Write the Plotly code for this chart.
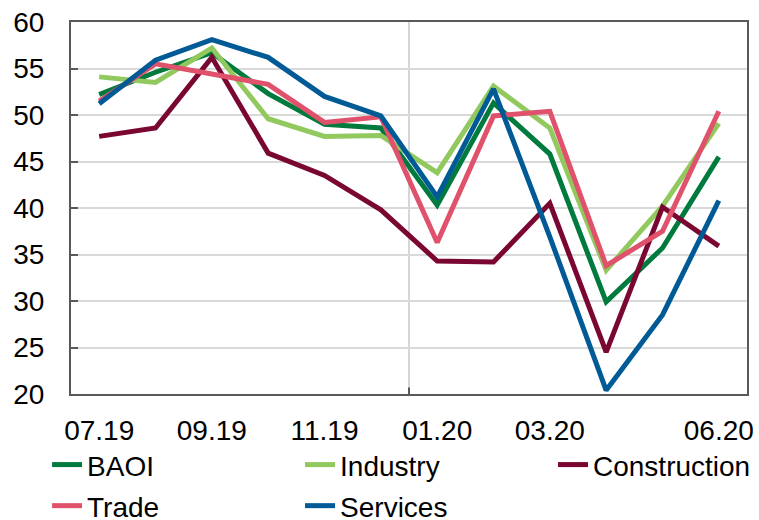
import plotly.graph_objects as go

# Monthly business activity indices, 07.2019 - 06.2020
months = ["07.19", "08.19", "09.19", "10.19", "11.19", "12.19",
          "01.20", "02.20", "03.20", "04.20", "05.20", "06.20"]
tick_months = ["07.19", "09.19", "11.19", "01.20", "03.20", "06.20"]

baoi = [52.2, 54.6, 56.7, 52.3, 49.0, 48.6, 40.3, 51.3, 45.8, 29.9, 35.7, 45.5]
industry = [54.1, 53.5, 57.2, 49.6, 47.7, 47.8, 43.8, 53.1, 48.6, 33.3, 40.2, 49.1]
construction = [47.7, 48.6, 56.2, 45.9, 43.5, 39.8, 34.3, 34.2, 40.5, 24.5, 40.1, 35.9]
trade = [51.5, 55.5, 54.4, 53.3, 49.2, 49.8, 36.3, 49.9, 50.4, 33.8, 37.5, 50.4]
services = [51.2, 55.9, 58.1, 56.2, 52.0, 49.9, 41.2, 52.8, 36.9, 20.4, 28.5, 40.8]

# (name, values, colour, legend box)
series = [
    ("BAOI", baoi, "#007A3D", "legend"),
    ("Industry", industry, "#92C95E", "legend"),
    ("Construction", construction, "#7A0632", "legend3"),
    ("Trade", trade, "#E0526B", "legend2"),
    ("Services", services, "#005A95", "legend2"),
]

FONT = "Liberation Sans, Arial, sans-serif"
FONT_SIZE = 28
AXIS_COLOR = "#595959"

fig = go.Figure()
for idx, (name, vals, color, leg) in enumerate(series):
    fig.add_trace(go.Scatter(
        x=months, y=vals, name=name, mode="lines",
        line=dict(color=color, width=5),
        legend=leg, legendrank=idx + 1,
    ))

# year separator between 12.19 and 01.20
sep = months.index("01.20") - 0.5
fig.add_shape(type="line", xref="x", yref="paper", x0=sep, x1=sep, y0=0, y1=1,
              line=dict(color="#C8C8C8", width=1.5), layer="below")
fig.add_shape(type="line", xref="x", yref="y", x0=sep, x1=sep, y0=20, y1=20.7,
              line=dict(color=AXIS_COLOR, width=2))

legend_common = dict(
    orientation="h", xanchor="left", yanchor="middle",
    xref="container", yref="container",
    font=dict(family=FONT, size=FONT_SIZE, color="#000000"),
    bgcolor="rgba(0,0,0,0)", entrywidth=208, entrywidthmode="pixels",
    itemwidth=30, traceorder="normal",
)

fig.update_layout(
    template="none",
    width=759, height=520,
    margin=dict(l=71, r=12, t=22, b=126, autoexpand=False),
    paper_bgcolor="white", plot_bgcolor="white",
    font=dict(family=FONT, size=FONT_SIZE, color="#000000"),
    showlegend=True,
    legend=dict(x=0.062, y=0.106, **legend_common),
    legend3=dict(x=0.7286, y=0.106, **legend_common),
    legend2=dict(x=0.062, y=0.027, **legend_common),
    xaxis=dict(
        type="category", categoryorder="array", categoryarray=months,
        tickvals=tick_months, ticktext=tick_months, automargin=False,
        showgrid=False, ticks="", showline=True, linecolor=AXIS_COLOR,
        linewidth=2, mirror=True, ticklabelstandoff=10,
        tickfont=dict(family=FONT, size=FONT_SIZE, color="#000000"),
        range=[-0.5, len(months) - 0.5],
    ),
    yaxis=dict(
        range=[20, 60], tickvals=[20, 25, 30, 35, 40, 45, 50, 55, 60],
        showgrid=True, gridcolor="#D9D9D9", gridwidth=1.5, automargin=False,
        ticks="inside", ticklen=7, tickwidth=2, tickcolor=AXIS_COLOR,
        showline=True, linecolor=AXIS_COLOR, linewidth=2, mirror=True,
        ticklabelstandoff=19, zeroline=False,
        tickfont=dict(family=FONT, size=FONT_SIZE, color="#000000"),
    ),
)

fig.write_html("out.html")
